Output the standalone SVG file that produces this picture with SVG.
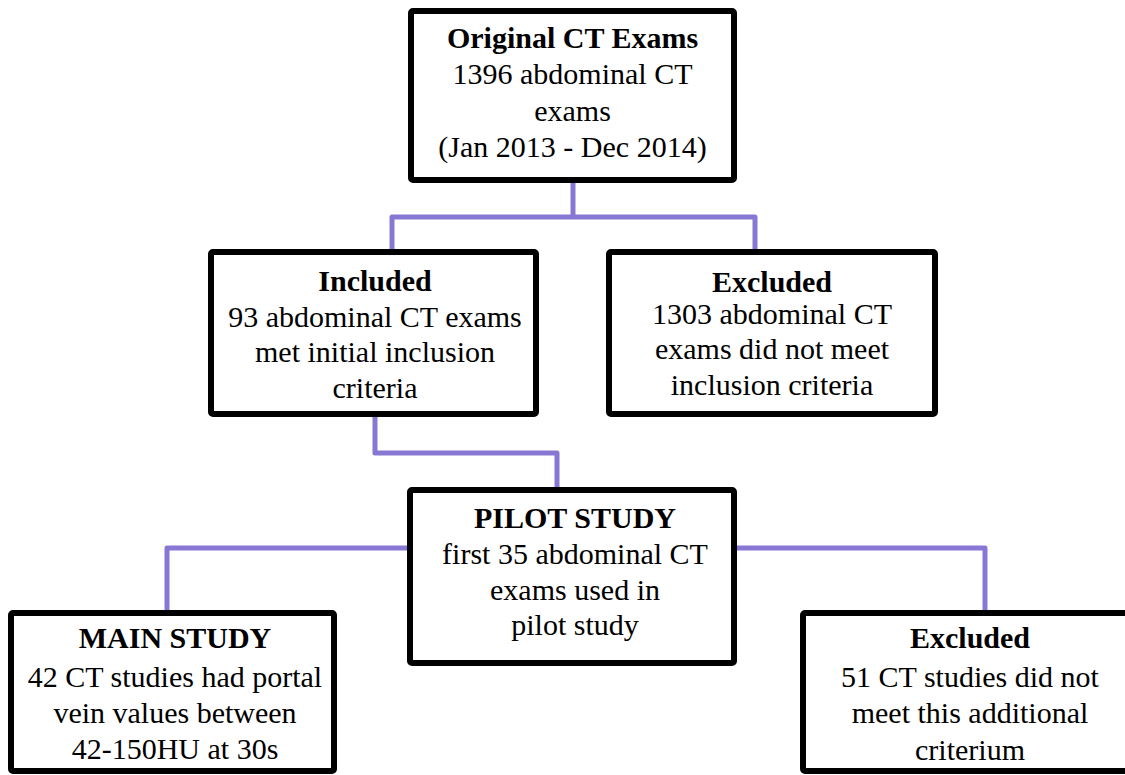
<svg xmlns="http://www.w3.org/2000/svg" width="1125" height="775" viewBox="0 0 1125 775">
<style>
.box{fill:#fff;stroke:#000;stroke-width:6}
.conn{fill:none;stroke:#8878d4;stroke-width:5;stroke-linejoin:round}
text{font-size:30px;fill:#000;text-anchor:middle}
.t{font-weight:bold}
</style>
<rect width="1125" height="775" fill="#fff"/>
<g id="connectors">
<path class="conn" d="M573,183 V217"/>
<path class="conn" d="M392,250 V217 H755 V250"/>
<path class="conn" d="M375,417 V453 H557 V488"/>
<path class="conn" d="M408,548 H167 V611"/>
<path class="conn" d="M736,548 H985 V611"/>
</g>
<g font-family="Liberation Serif, Times New Roman, DejaVu Serif, serif">
<g id="original">
<rect class="box" x="411" y="11" width="323" height="169" rx="2"/>
<text class="t" x="572.5" y="47.5">Original CT Exams</text>
<text x="572.5" y="84">1396 abdominal CT</text>
<text x="572.5" y="120.5">exams</text>
<text x="572.5" y="157">(Jan 2013 - Dec 2014)</text>
</g>
<g id="included">
<rect class="box" x="211" y="252" width="325" height="162" rx="2"/>
<text class="t" x="375" y="291">Included</text>
<text x="375" y="327">93 abdominal CT exams</text>
<text x="375" y="362">met initial inclusion</text>
<text x="375" y="398">criteria</text>
</g>
<g id="excluded1">
<rect class="box" x="609" y="252" width="326" height="162" rx="2"/>
<text class="t" x="772" y="292">Excluded</text>
<text x="772" y="324">1303 abdominal CT</text>
<text x="772" y="359">exams did not meet</text>
<text x="772" y="395">inclusion criteria</text>
</g>
<g id="pilot">
<rect class="box" x="410" y="490" width="324" height="173" rx="2"/>
<text class="t" x="575" y="528">PILOT STUDY</text>
<text x="575" y="564">first 35 abdominal CT</text>
<text x="575" y="600">exams used in</text>
<text x="575" y="635">pilot study</text>
</g>
<g id="main">
<rect class="box" x="11" y="613" width="323" height="158" rx="2"/>
<text class="t" x="175" y="648">MAIN STUDY</text>
<text x="175" y="687">42 CT studies had portal</text>
<text x="175" y="723">vein values between</text>
<text x="175" y="759">42-150HU at 30s</text>
</g>
<g id="excluded2">
<rect class="box" x="803" y="613" width="330" height="158" rx="2"/>
<text class="t" x="970" y="648">Excluded</text>
<text x="970" y="687">51 CT studies did not</text>
<text x="970" y="723">meet this additional</text>
<text x="970" y="760">criterium</text>
</g>
</g>
</svg>
